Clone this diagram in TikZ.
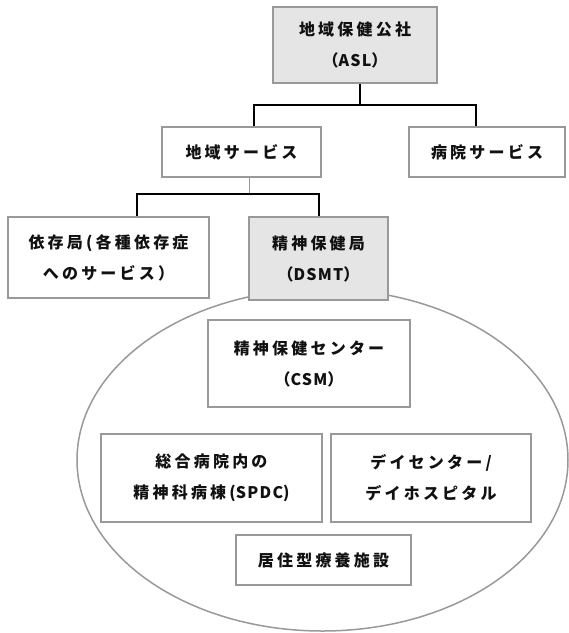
\documentclass[tikz,border=0pt]{standalone}
\usepackage{fontspec}
\newfontfamily\jp{Noto Sans CJK JP}[LetterSpace=20]
\newfontfamily\jplat{Noto Sans CJK JP}[LetterSpace=8]
\newcommand{\lat}[1]{{\jplat\bfseries #1}}
\usetikzlibrary{calc}
\definecolor{boxline}{HTML}{999999}
\definecolor{boxfill}{HTML}{E5E5E5}
\definecolor{txt}{HTML}{111111}
\tikzset{
  box/.style={draw=boxline, line width=1.5pt, fill=white, minimum width=#1, inner sep=0pt, align=center,
    text=txt, font=\jp\bfseries\fontsize{16}{31}\selectfont},
  grbox/.style={box=#1, fill=boxfill},
  conn/.style={draw=black, line width=2pt},
  thin/.style={draw=boxline, line width=1pt},
  oval/.style={draw=boxline, line width=1.5pt}
}
\begin{document}
\begin{tikzpicture}[x=1pt,y=-1pt]
\useasboundingbox (0,0) rectangle (569,633);
% ellipse drawn first
\draw[oval] (322.5,460) ellipse [x radius=245.5pt, y radius=171pt];
\node[grbox=164pt, minimum height=76pt] (asl) at (355,45) {地域保健公社\\（\lat{ASL}）};
\node[box=159pt, minimum height=50pt] (chiiki) at (241.5,152) {地域サービス};
\node[box=156pt, minimum height=50pt] (byoin) at (487,152) {病院サービス};
\node[box=201pt, minimum height=81pt] (izon) at (108.5,257.5) {依存局(各種依存症\\へのサービス）};
\node[grbox=139pt, minimum height=83pt] (dsmt) at (318.5,258.5) {精神保健局\\（\lat{DSMT}）};
\node[box=202pt, minimum height=87pt] (csm) at (309,363.5) {精神保健センター\\（\lat{CSM}）};
\node[box=221pt, minimum height=88pt] (spdc) at (211.5,478) {総合病院内の\\精神科病棟(\lat{SPDC})};
\node[box=200pt, minimum height=88pt] (day) at (431,478) {デイセンター/\\デイホスピタル};
\node[box=175pt, minimum height=50pt] (res) at (323.5,560) {居住型療養施設};
% connectors
\coordinate (j1) at (360,105);
\coordinate (ja) at (254,105);
\coordinate (jb) at (476,105);
\draw[conn] (asl.south -| j1) -- (j1);
\draw[conn] (chiiki.north -| ja) -- (ja) -- (jb) -- (byoin.north -| jb);
\coordinate (j2) at (249,194);
\coordinate (jc) at (137,194);
\coordinate (jd) at (319,194);
\draw[thin] (chiiki.south -| j2) -- (j2);
\draw[conn] (izon.north -| jc) -- (jc) -- (jd) -- (dsmt.north -| jd);
\end{tikzpicture}
\end{document}
